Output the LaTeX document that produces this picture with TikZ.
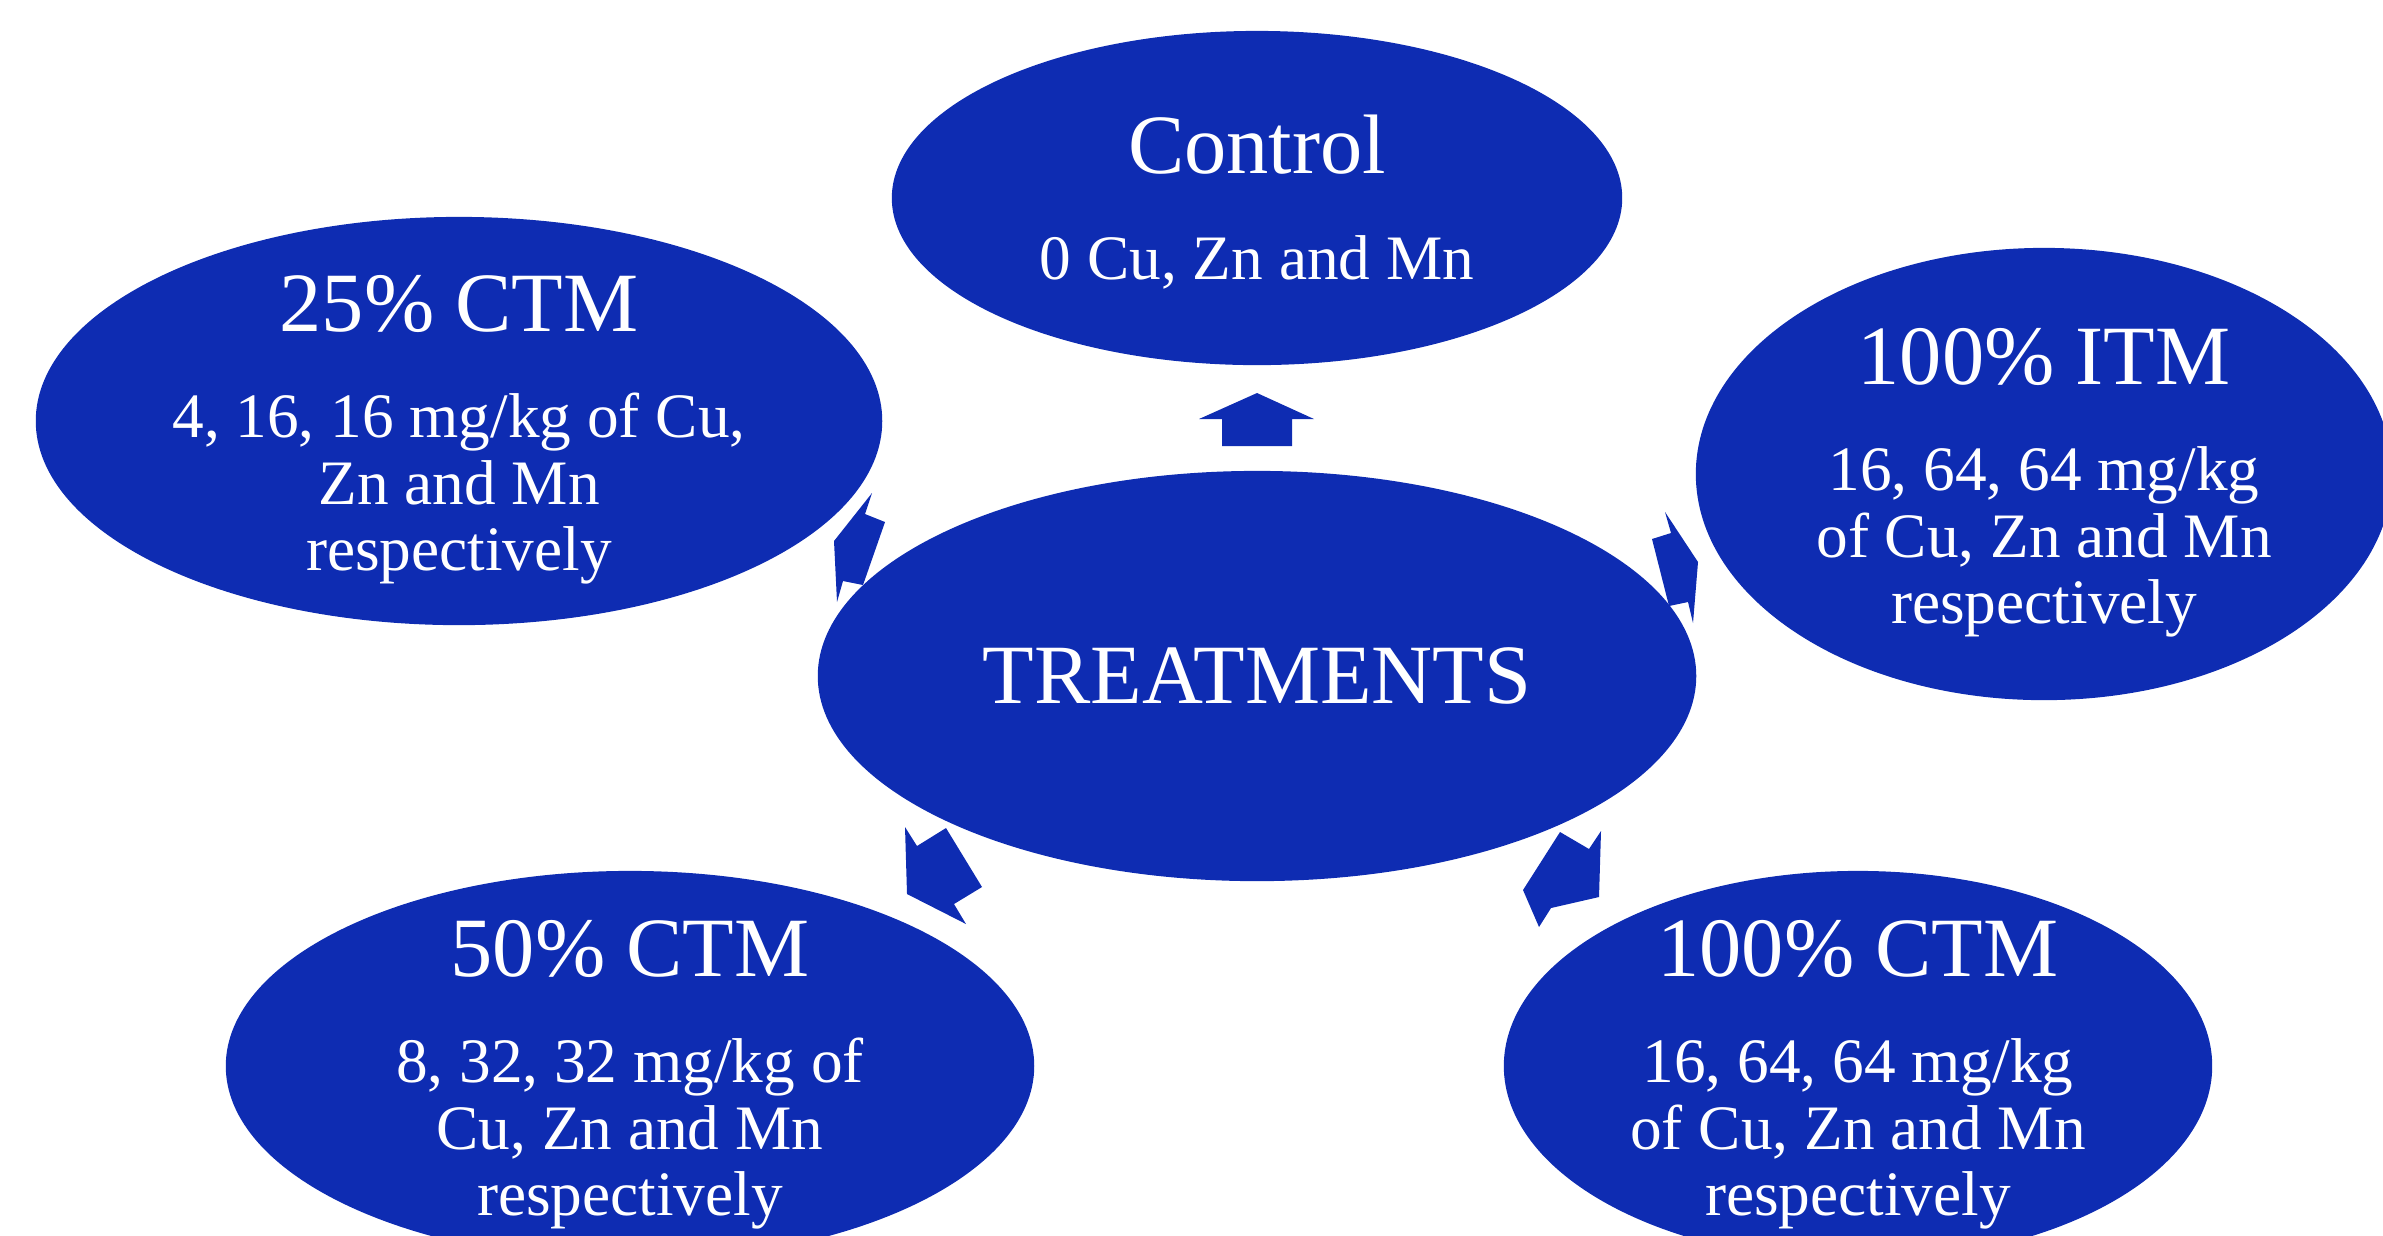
\documentclass[tikz,border=0pt]{standalone}
\usepackage{fontspec}
\setmainfont{Liberation Serif}
\usetikzlibrary{shapes.geometric}
\definecolor{treatblue}{RGB}{14,44,178}
\newcommand{\titlesize}{\fontsize{24}{29}\selectfont}
\newcommand{\bodysize}{\fontsize{18}{19}\selectfont}

\begin{document}
\begin{tikzpicture}[x=0.01cm,y=-0.01cm,
    bubble/.style={ellipse,fill=treatblue,inner sep=0pt},
    bubbletext/.style={text=white,inner sep=0pt,align=center,font=\bodysize,yshift=-0.09cm},
    blockarrow/.style={fill=treatblue}]
  \useasboundingbox (0,0) rectangle (2383,1235);
  \clip (0,0) rectangle (2383,1235);
  % centre and the five groups
  \node[bubble,minimum width=8.78cm,minimum height=4.10cm] (treat) at (1257,676) {};
  \node[bubble,minimum width=7.30cm,minimum height=3.34cm] (ctrl) at (1257,198) {};
  \node[bubble,minimum width=8.46cm,minimum height=4.08cm] (ctm25) at (459,421) {};
  \node[bubble,minimum width=6.96cm,minimum height=4.52cm] (itm100) at (2044,474) {};
  \node[bubble,minimum width=8.08cm,minimum height=3.90cm] (ctm50) at (630,1066) {};
  \node[bubble,minimum width=7.08cm,minimum height=3.90cm] (ctm100) at (1858,1066) {};
  % texts
  \node[bubbletext,yshift=0.09cm] (treat-text) at (treat) {{\titlesize TREATMENTS}};
  \node[bubbletext,yshift=0.05cm] (ctrl-text) at (ctrl)
    {{\titlesize Control}\\[11pt]0 Cu, Zn and Mn};
  \node[bubbletext] (ctm25-text) at (ctm25)
    {{\titlesize 25\% CTM}\\[11pt]4, 16, 16 mg/kg of Cu,\\Zn and Mn\\respectively};
  \node[bubbletext] (itm100-text) at (itm100)
    {{\titlesize 100\% ITM}\\[11pt]16, 64, 64 mg/kg\\of Cu, Zn and Mn\\respectively};
  \node[bubbletext] (ctm50-text) at (ctm50)
    {{\titlesize 50\% CTM}\\[11pt]8, 32, 32 mg/kg of\\Cu, Zn and Mn\\respectively};
  \node[bubbletext] (ctm100-text) at (ctm100)
    {{\titlesize 100\% CTM}\\[11pt]16, 64, 64 mg/kg\\of Cu, Zn and Mn\\respectively};
  % block arrows out of the centre
  \fill[blockarrow] (1257,393) -- (1314,419) -- (1292,419) -- (1292,446)
    -- (1222,446) -- (1222,419) -- (1199,419) -- cycle;
  \fill[blockarrow] (834,541) -- (872,493) -- (865,514) -- (885,522)
    -- (863,585) -- (843,581) -- (837,602) -- cycle;
  \fill[blockarrow] (1698,562) -- (1665,512) -- (1671,533) -- (1652,539)
    -- (1669,606) -- (1688,602) -- (1693,623) -- cycle;
  \fill[blockarrow] (905,827) -- (917,846) -- (946,828) -- (982,887)
    -- (954,904) -- (966,924) -- (907,894) -- cycle;
  \fill[blockarrow] (1560,832) -- (1589,849) -- (1601,831) -- (1599,897)
    -- (1551,908) -- (1539,927) -- (1523,890) -- cycle;
\end{tikzpicture}
\end{document}
